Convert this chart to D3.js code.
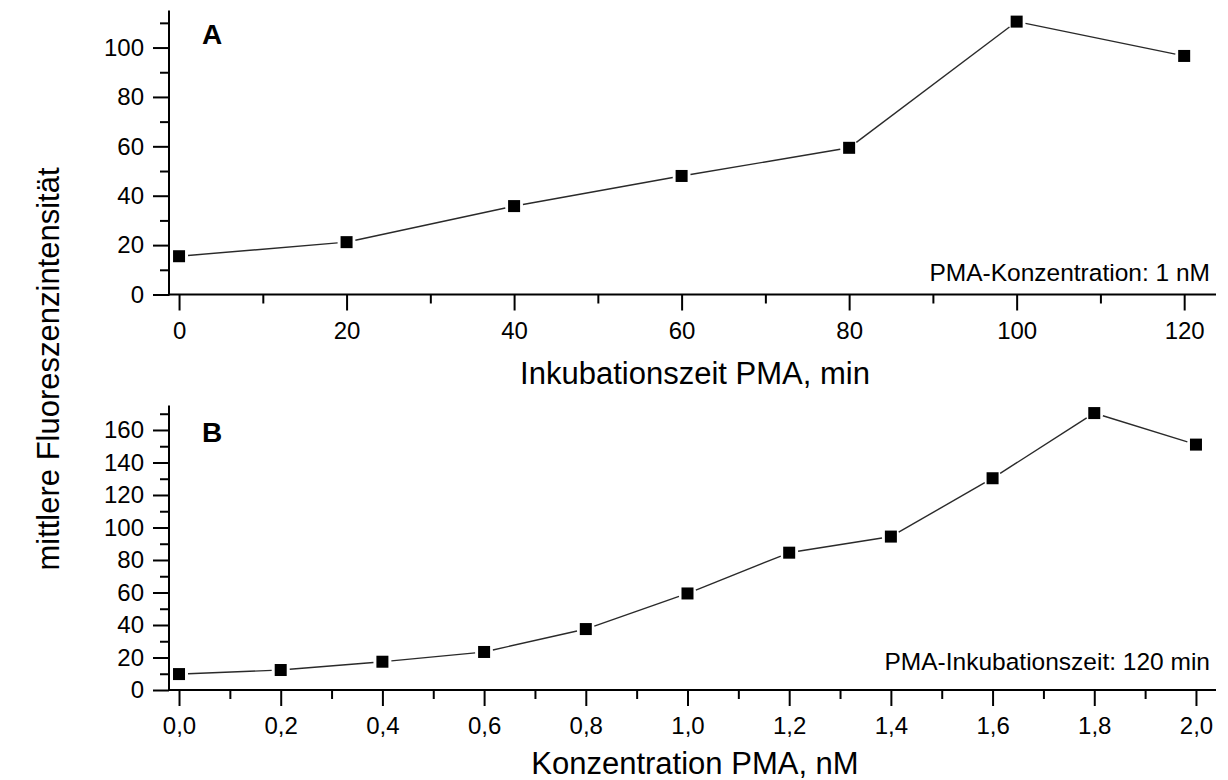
<!DOCTYPE html>
<html>
<head>
<meta charset="utf-8">
<script src="https://cdn.jsdelivr.net/npm/d3@7"></script>
<style>
  html, body { margin: 0; padding: 0; background: #fff; }
  svg { display: block; font-family: "Liberation Sans", Arial, sans-serif; }
</style>
</head>
<body>
<svg id="chart" width="1228" height="780"></svg>
<script>
// ---- Data ----
const timeMin = [0, 20, 40, 60, 80, 100, 120];
const fluorA = [15.5, 21.2, 35.8, 48, 59.4, 110.5, 96.6];

const concNM = [0, 0.2, 0.4, 0.6, 0.8, 1.0, 1.2, 1.4, 1.6, 1.8, 2.0];
const fluorB = [9.8, 12.3, 17.4, 23.4, 37.5, 59.4, 84.5, 94.4, 130.3, 170.4, 151];

const xTicksA = [0, 20, 40, 60, 80, 100, 120];
const xMinorA = [10, 30, 50, 70, 90, 110];
const yTicksA = [0, 20, 40, 60, 80, 100];
const yMinorA = [10, 30, 50, 70, 90, 110];

const xTicksB = [0, 0.2, 0.4, 0.6, 0.8, 1.0, 1.2, 1.4, 1.6, 1.8, 2.0];
const xMinorB = [0.1, 0.3, 0.5, 0.7, 0.9, 1.1, 1.3, 1.5, 1.7, 1.9];
const yTicksB = [0, 20, 40, 60, 80, 100, 120, 140, 160];
const yMinorB = [10, 30, 50, 70, 90, 110, 130, 150, 170];

const titleXA = "Inkubationszeit PMA, min";
const titleXB = "Konzentration PMA, nM";
const titleY = "mittlere Fluoreszenzintensität";
const noteA = "PMA-Konzentration: 1 nM";
const noteB = "PMA-Inkubationszeit: 120 min";

const svg = d3.select("#chart");
const fmtComma = d => d3.format(".1f")(d).replace(".", ",");

function panel(opt) {
  const g = svg.append("g");
  const x = d3.scaleLinear().domain(opt.xDomain).range([opt.left, opt.right]);
  const y = d3.scaleLinear().domain(opt.yDomain).range([opt.bottom, opt.top]);

  const gx = g.append("g").attr("transform", `translate(0,${opt.bottom})`)
    .call(d3.axisBottom(x).tickValues(opt.xTicks).tickSize(16).tickPadding(11).tickFormat(opt.xFmt));
  const gxm = g.append("g").attr("transform", `translate(0,${opt.bottom})`)
    .call(d3.axisBottom(x).tickValues(opt.xMinor).tickSize(9).tickFormat(""));
  const gy = g.append("g").attr("transform", `translate(${opt.left},0)`)
    .call(d3.axisLeft(y).tickValues(opt.yTicks).tickSize(16).tickPadding(9).tickFormat(d3.format("d")));
  const gym = g.append("g").attr("transform", `translate(${opt.left},0)`)
    .call(d3.axisLeft(y).tickValues(opt.yMinor).tickSize(9).tickFormat(""));

  [gx, gxm, gy, gym].forEach(a => {
    a.select(".domain").remove();
    a.selectAll(".tick line").attr("stroke", "#000").attr("stroke-width", 2);
    a.selectAll(".tick text").attr("fill", "#000").style("font-size", "24px")
      .style("font-family", "'Liberation Sans', Arial, sans-serif");
  });

  // axis lines
  g.append("line").attr("x1", x.range()[0]).attr("x2", x.range()[1])
    .attr("y1", y.range()[0]).attr("y2", y.range()[0])
    .attr("stroke", "#000").attr("stroke-width", 2);
  g.append("line").attr("x1", x.range()[0]).attr("x2", x.range()[0])
    .attr("y1", y.range()[0] + 1).attr("y2", y.range()[1])
    .attr("stroke", "#000").attr("stroke-width", 2);

  // connecting line segments with small gaps around markers
  const pts = opt.xs.map((v, i) => [x(v), y(opt.ys[i])]);
  const gap = 9;
  const segs = [];
  for (let i = 0; i < pts.length - 1; i++) {
    const [x1, y1] = pts[i], [x2, y2] = pts[i + 1];
    const L = Math.hypot(x2 - x1, y2 - y1);
    const ux = (x2 - x1) / L, uy = (y2 - y1) / L;
    segs.push([x1 + ux * gap, y1 + uy * gap, x2 - ux * gap, y2 - uy * gap]);
  }
  g.append("g").selectAll("line").data(segs).join("line")
    .attr("x1", d => d[0]).attr("y1", d => d[1]).attr("x2", d => d[2]).attr("y2", d => d[3])
    .attr("stroke", "#2a2a2a").attr("stroke-width", 1.4);

  // square markers
  const s = 12;
  g.append("g").selectAll("rect").data(pts).join("rect")
    .attr("x", d => d[0] - s / 2).attr("y", d => d[1] - s / 2)
    .attr("width", s).attr("height", s).attr("fill", "#000");

  // panel letter
  g.append("text").attr("x", opt.left + 33).attr("y", opt.letterY)
    .style("font-size", "28px").style("font-weight", "bold").attr("fill", "#000")
    .text(opt.letter);

  // note
  g.append("text").attr("x", 1210).attr("y", opt.noteY).attr("text-anchor", "end")
    .style("font-size", "24.5px").attr("fill", "#000").text(opt.note);

  // x title
  g.append("text").attr("x", 695).attr("y", opt.titleY).attr("text-anchor", "middle")
    .style("font-size", "31px").attr("fill", "#000").text(opt.title);
}

panel({
  xs: timeMin, ys: fluorA,
  xDomain: [-1.2, 123.8], yDomain: [0, 115],
  left: 169, right: 1216, top: 10.5, bottom: 294.5,
  xTicks: xTicksA, xMinor: xMinorA, yTicks: yTicksA, yMinor: yMinorA,
  xFmt: d3.format("d"),
  letter: "A", letterY: 44, note: noteA, noteY: 281,
  title: titleXA, titleY: 384
});

panel({
  xs: concNM, ys: fluorB,
  xDomain: [-0.0197, 2.0394], yDomain: [0, 175],
  left: 169, right: 1216, top: 405.6, bottom: 690,
  xTicks: xTicksB, xMinor: xMinorB, yTicks: yTicksB, yMinor: yMinorB,
  xFmt: fmtComma,
  letter: "B", letterY: 442, note: noteB, noteY: 670,
  title: titleXB, titleY: 774
});

// shared y title
svg.append("text")
  .attr("transform", "translate(59,369) rotate(-90)")
  .attr("text-anchor", "middle")
  .style("font-size", "31px").attr("fill", "#000")
  .text(titleY);
</script>
</body>
</html>
